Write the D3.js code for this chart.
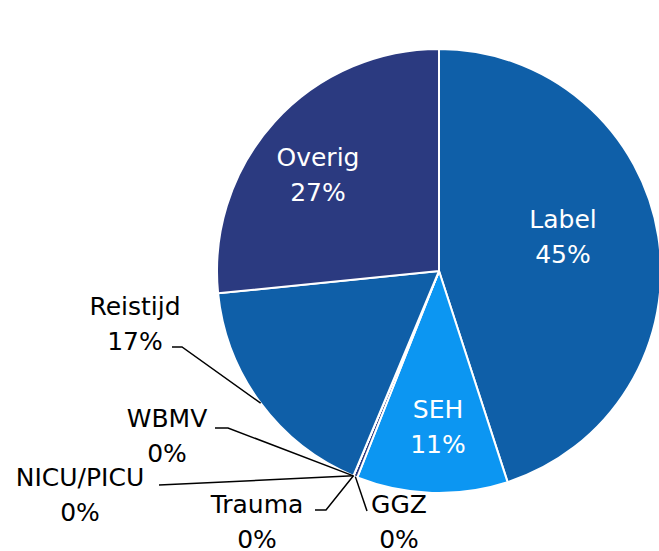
<!DOCTYPE html>
<html>
<head>
<meta charset="utf-8">
<script src="https://cdn.jsdelivr.net/npm/d3@7"></script>
<style>
  body { margin: 0; background: #fff; }
  text { font-family: "DejaVu Sans", Verdana, sans-serif; font-size: 25px; }
</style>
</head>
<body>
<div id="chart"></div>
<script>
// Data, clockwise from 12 o'clock
var categories = ["Label", "SEH", "GGZ", "Trauma", "NICU/PICU", "WBMV", "Reistijd", "Overig"];
var values = [45.0, 11.0, 0.3, 0.0, 0.0, 0.0, 17.1, 26.6];
var pctLabels = ["45%", "11%", "0%", "0%", "0%", "0%", "17%", "27%"];
var colors = ["#0f5fa8", "#0c96f2", "#2b3a80", "#0f5fa8", "#0f5fa8", "#0f5fa8", "#0f5fa8", "#2b3a80"];

var width = 659, height = 551;
var cx = 439, cy = 271, radius = 222;

// label placement (text centre x, first-line baseline y); inside labels are white
var inside = {
    "Label": [563, 228],
    "SEH": [438, 418],
    "Overig": [318, 166]
};
var outside = {
    "Reistijd": {at: [135, 315], from: [172, 347], elbow: [182, 347]},
    "WBMV": {at: [167, 427], from: [215, 428], elbow: [228, 428]},
    "NICU/PICU": {at: [80, 486], from: [159, 485], elbow: null},
    "Trauma": {at: [257, 513], from: [315, 510], elbow: [326, 510]},
    "GGZ": {at: [399, 513], from: [367, 511], elbow: null}
};
var lineGap = 35;

var svg = d3.select("#chart").append("svg")
    .attr("width", width)
    .attr("height", height);

var g = svg.append("g").attr("transform", "translate(" + cx + "," + cy + ")");

var pie = d3.pie().sort(null).value(function (d) { return d; });
var arcs = pie(values);

var arc = d3.arc().innerRadius(0).outerRadius(radius);
var edge = d3.arc().innerRadius(radius).outerRadius(radius);

g.selectAll("path.slice")
    .data(arcs)
    .enter()
    .append("path")
    .attr("class", "slice")
    .attr("d", arc)
    .attr("fill", function (d, i) { return colors[i]; })
    .attr("stroke", "#fff")
    .attr("stroke-width", 2)
    .attr("stroke-linejoin", "round");

//Leader lines for the small slices
arcs.forEach(function (d, i) {
    var o = outside[categories[i]];
    if (!o) return;
    var p = edge.centroid(d);
    var pts = [[o.from[0] - cx, o.from[1] - cy]];
    if (o.elbow) pts.push([o.elbow[0] - cx, o.elbow[1] - cy]);
    pts.push(p);
    g.append("path")
        .attr("d", d3.line()(pts))
        .attr("fill", "none")
        .attr("stroke", "#000")
        .attr("stroke-width", 1.5);
});

//Labels
categories.forEach(function (c, i) {
    var pos, fill;
    if (inside[c]) { pos = inside[c]; fill = "#fff"; }
    else { pos = outside[c].at; fill = "#000"; }
    var t = svg.append("text")
        .attr("text-anchor", "middle")
        .attr("fill", fill);
    t.append("tspan").attr("x", pos[0]).attr("y", pos[1]).text(c);
    t.append("tspan").attr("x", pos[0]).attr("y", pos[1] + lineGap).text(pctLabels[i]);
});
</script>
</body>
</html>
